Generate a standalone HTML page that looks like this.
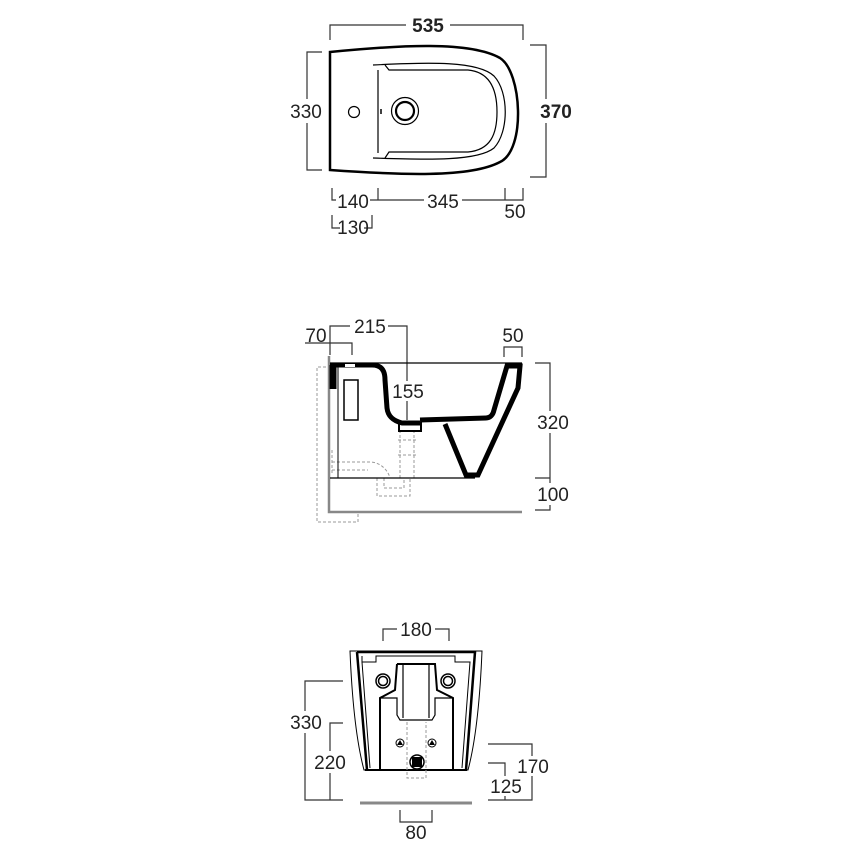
<!DOCTYPE html>
<html><head><meta charset="utf-8"><style>
html,body{margin:0;padding:0;background:#fff}
svg{display:block}
text{font-family:"Liberation Sans",Arial,sans-serif;font-size:19px;fill:#222}
.b{font-weight:bold}
</style></head><body>
<svg width="851" height="851" viewBox="0 0 851 851" xmlns="http://www.w3.org/2000/svg">
<g fill="none" stroke="#333" stroke-width="1.2">
<path d="M330,40 V25 H523 V40"/>
<path d="M322,52 H307 V170 H322"/>
<path d="M530,45 H546 V177 H530"/>
<path d="M332,188 V200 H523 V188 M378,188 V200 M505,188 V200"/>
<path d="M332,215 V228 H340 M364,228 H372 V215"/>
</g>
<rect x="406" y="14" width="44" height="22" fill="#fff"/>
<text x="428" y="32" text-anchor="middle" class="b">535</text>
<rect x="289" y="99" width="35" height="24" fill="#fff"/>
<text x="306" y="118" text-anchor="middle">330</text>
<rect x="536" y="99" width="30" height="24" fill="#fff"/>
<text x="556" y="118" text-anchor="middle" class="b">370</text>
<rect x="336" y="191" width="34" height="18" fill="#fff"/>
<text x="353" y="208" text-anchor="middle">140</text>
<rect x="424" y="191" width="38" height="18" fill="#fff"/>
<text x="443" y="208" text-anchor="middle">345</text>
<text x="515" y="218" text-anchor="middle">50</text>
<text x="353" y="234" text-anchor="middle">130</text>
<path d="M330,52 C400,45 470,41 500,58 C522,72 526,150 500,162 C470,178 400,175 330,170 Z" fill="none" stroke="#000" stroke-width="2.5"/>
<g fill="none" stroke="#000" stroke-width="1.2">
<path d="M373,65 C430,62 478,61 494,76 C509,92 509,132 494,148 C478,161 430,160 373,158"/>
<path d="M385,65 L389,70 H468 C490,72 497,90 497,112 C497,135 490,150 468,152 H389 L385,158"/>
<path d="M378,70 V153"/>
<circle cx="354" cy="112" r="5.5"/>
<circle cx="405" cy="111" r="13.5"/>
<circle cx="405" cy="111" r="9" stroke-width="2.2"/>
<path d="M381,109 V114" stroke-width="1.5"/>
</g>

<g fill="none" stroke="#333" stroke-width="1.2">
<path d="M305,343 H352 V355"/>
<path d="M330,355 V326 H350 M388,326 H407 V420"/>
<path d="M504,357 V347 H522 V357"/>
<path d="M535,363 H550 V510 H535 M535,478 H550"/>
</g>
<text x="316" y="342" text-anchor="middle">70</text>
<text x="370" y="333" text-anchor="middle">215</text>
<text x="513" y="342" text-anchor="middle">50</text>
<rect x="391" y="381" width="34" height="20" fill="#fff"/>
<text x="408" y="398" text-anchor="middle">155</text>
<rect x="536" y="411" width="34" height="22" fill="#fff"/>
<text x="553" y="429" text-anchor="middle">320</text>
<rect x="536" y="483" width="34" height="22" fill="#fff"/>
<text x="553" y="501" text-anchor="middle">100</text>
<path d="M329,356 V512 H522" fill="none" stroke="#888" stroke-width="2.5"/>
<g fill="none" stroke="#999" stroke-width="1" stroke-dasharray="3,2">
<path d="M326,367 H317 V522 H358 V512"/>
<path d="M332,450 V475 M332,462 H370 C380,462 388,470 390,478 M332,470 H368"/>
<path d="M377,478 V496 H410 V478 M384,478 V488 H404 V478"/>
<path d="M400,430 V478 M414,430 V478 M398,455 H416 M398,440 H416"/>
</g>
<g fill="none" stroke="#000">
<path d="M330,363 H522" stroke-width="1.2"/>
<path d="M330,478 H475" stroke-width="1.2"/>
<path d="M338,363 V478" stroke-width="1"/>
<rect x="344" y="380" width="14" height="40" stroke-width="1.5"/>
<path d="M330,365 H372 C381,365 385,370 385,380 L387,408 C388,417 394,421 402,423 H420 M420,420 L486,418 C490,418 493,415 494,410 L507,366 H520 L518,388 L478,475 H466 L445,424" stroke-width="5"/>
<path d="M333,365 V389" stroke-width="7"/>
<rect x="399" y="423" width="22" height="8" stroke-width="2"/>
</g>
<rect x="345" y="364" width="10" height="3" fill="#fff"/>

<g fill="none" stroke="#333" stroke-width="1.2">
<path d="M383,641 V629 H449 V641"/>
<path d="M400,810 V822 H432 V810"/>
<path d="M343,681 H305 V800 H343 M343,723 H330 V800"/>
<path d="M488,744 H532 V800 H488 M488,763 H505 V800"/>
</g>
<rect x="397" y="619" width="38" height="20" fill="#fff"/>
<text x="416" y="636" text-anchor="middle">180</text>
<text x="416" y="839" text-anchor="middle">80</text>
<rect x="289" y="711" width="34" height="22" fill="#fff"/>
<text x="306" y="729" text-anchor="middle">330</text>
<rect x="313" y="751" width="34" height="22" fill="#fff"/>
<text x="330" y="769" text-anchor="middle">220</text>
<rect x="513" y="756" width="36" height="20" fill="#fff"/>
<text x="533" y="773" text-anchor="middle">170</text>
<rect x="489" y="776" width="34" height="20" fill="#fff"/>
<text x="506" y="793" text-anchor="middle">125</text>
<path d="M360,803 H472" stroke="#888" stroke-width="3"/>
<g fill="none" stroke="#000">
<path d="M350,651 H482 C480,700 476,740 468,770 H364 C356,740 352,700 350,651 Z" stroke-width="1"/>
<path d="M357,652 H475 L466,770 M357,652 L367,770" stroke-width="2.5"/>
<path d="M365,770 H467" stroke-width="2"/>
<path d="M362,656 V662 H376 V656 H455 V662 H470 L462,768 M362,662 L370,768" stroke-width="1"/>
<path d="M397,664 H435 L437,690 L453,698 V770 M397,664 L395,690 L380,698 V770" stroke-width="2"/>
<path d="M380,698 H397 V715 L400,720 H432 L435,715 V698 H453" stroke-width="1.2"/>
<path d="M403,665 V718 M429,665 V718" stroke-width="1.2"/>
<circle cx="383" cy="681" r="7" stroke-width="1.5"/>
<circle cx="383" cy="681" r="4.5" stroke-width="1.5"/>
<circle cx="448" cy="681" r="7" stroke-width="1.5"/>
<circle cx="448" cy="681" r="4.5" stroke-width="1.5"/>
<circle cx="400" cy="743" r="4" stroke-width="1"/>
<circle cx="432" cy="743" r="4" stroke-width="1"/>
</g>
<path d="M397,745 L400,740 L403,745 Z M429,745 L432,740 L435,745 Z" fill="#000"/>
<g fill="none" stroke="#999" stroke-width="1" stroke-dasharray="3,2">
<path d="M407,722 V778 H426 V722"/>
</g>
<circle cx="417" cy="762" r="7" fill="#fff" stroke="#000" stroke-width="1.5"/>
<rect x="412" y="757" width="10" height="10" fill="#000"/>
</svg>
</body></html>
